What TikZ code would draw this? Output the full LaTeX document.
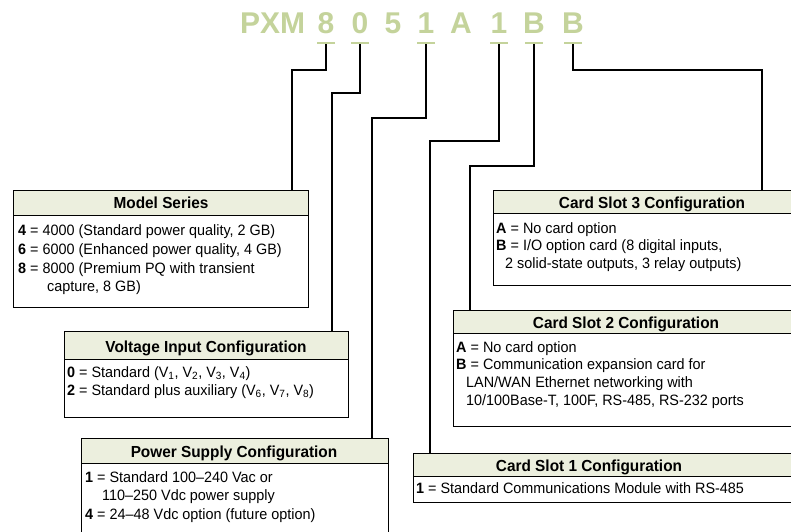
\documentclass[tikz,border=0pt]{standalone}
\usepackage{fontspec}
\setmainfont{Liberation Sans}
\newfontfamily\bodyfont[FakeStretch=0.96,Ligatures=TeX]{Liberation Sans}
\newfontfamily\headfont[FakeStretch=0.96]{Liberation Sans}
\newfontfamily\titlefont{Liberation Sans}
\definecolor{titlegreen}{HTML}{C4D39B}
\definecolor{hdrfill}{HTML}{ECEFDE}
\tikzset{
  ttl/.style={font=\titlefont\fontsize{30}{30}\selectfont\bfseries, text=titlegreen, inner sep=0pt, anchor=base},
  uline/.style={draw=titlegreen, line width=2pt},
  conn/.style={draw=black, line width=1.3pt},
  frame/.style={draw=black, line width=1pt, fill=white, rectangle, inner sep=0pt, anchor=north west},
  hdrbox/.style={draw=black, line width=1pt, fill=hdrfill, rectangle, inner sep=0pt, anchor=north west},
  hdrtext/.style={font=\headfont\fontsize{16}{16}\selectfont\bfseries, inner sep=0pt, anchor=base},
  txt/.style={font=\bodyfont\fontsize{15}{15}\selectfont, inner sep=0pt, anchor=base west}
}
\begin{document}
\begin{tikzpicture}[x=1pt,y=-1pt]
\clip (0,0) rectangle (791,531);
\fill[white] (0,0) rectangle (791,531);
% title
\node[ttl, anchor=base west] (pxm) at (240,33) {PXM};
\node[ttl] (d8) at (326,33) {8};
\node[ttl] (d0) at (360,33) {0};
\node[ttl] (d5) at (393,33) {5};
\node[ttl] (d1a) at (426,33) {1};
\node[ttl] (dA) at (461,33) {A};
\node[ttl] (d1b) at (499,33) {1};
\node[ttl] (dBa) at (534,33) {B};
\node[ttl] (dBb) at (573,33) {B};
\foreach \n in {d8,d0,d1a,d1b,dBa,dBb}{
  \draw[uline] ([xshift=-9pt,yshift=-10pt]\n.base) -- ([xshift=9pt,yshift=-10pt]\n.base);
  \coordinate (u\n) at ([yshift=-11pt]\n.base);
}
% boxes
\node[frame, minimum width=295pt, minimum height=117pt] (ms) at (13,190) {};
\node[hdrbox, minimum width=295pt, minimum height=25pt] (msh) at (13,190) {};
\node[frame, minimum width=284pt, minimum height=86pt] (vi) at (64,331) {};
\node[hdrbox, minimum width=284pt, minimum height=28pt] (vih) at (64,331) {};
\node[frame, minimum width=307pt, minimum height=107pt] (ps) at (81,438) {};
\node[hdrbox, minimum width=307pt, minimum height=25pt] (psh) at (81,438) {};
\node[frame, minimum width=317pt, minimum height=95pt] (cs3) at (493,190) {};
\node[hdrbox, minimum width=317pt, minimum height=23pt] (cs3h) at (493,190) {};
\node[frame, minimum width=347pt, minimum height=116pt] (cs2) at (453,310) {};
\node[hdrbox, minimum width=347pt, minimum height=23pt] (cs2h) at (453,310) {};
\node[frame, minimum width=387pt, minimum height=49pt] (cs1) at (413,453) {};
\node[hdrbox, minimum width=387pt, minimum height=23pt] (cs1h) at (413,453) {};
% headers
\node[hdrtext] (t1) at (161,208) {Model Series};
\node[hdrtext] (t2) at (206,352) {Voltage Input Configuration};
\node[hdrtext] (t3) at (234,457) {Power Supply Configuration};
\node[hdrtext] (t4) at (652,208) {Card Slot 3 Configuration};
\node[hdrtext] (t5) at (626,328) {Card Slot 2 Configuration};
\node[hdrtext] (t6) at (589,471) {Card Slot 1 Configuration};
% body texts
\node[txt] (m1) at (18,235) {\textbf{4} = 4000 (Standard power quality, 2 GB)};
\node[txt] (m2) at (18,254) {\textbf{6} = 6000 (Enhanced power quality, 4 GB)};
\node[txt] (m3) at (18,273) {\textbf{8} = 8000 (Premium PQ with transient};
\node[txt] (m4) at (47,291.5) {capture, 8 GB)};
\node[txt] (v1) at (67,377) {\textbf{0} = Standard (V\textsubscript{1}, V\textsubscript{2}, V\textsubscript{3}, V\textsubscript{4})};
\node[txt] (v2) at (67,395) {\textbf{2} = Standard plus auxiliary (V\textsubscript{6}, V\textsubscript{7}, V\textsubscript{8})};
\node[txt] (p1) at (85,482) {\textbf{1} = Standard 100–240 Vac or};
\node[txt] (p2) at (102,500.5) {110–250 Vdc power supply};
\node[txt] (p3) at (85,519) {\textbf{4} = 24–48 Vdc option (future option)};
\node[txt] (c31) at (496,233) {\textbf{A} = No card option};
\node[txt] (c32) at (496,250.5) {\textbf{B} = I/O option card (8 digital inputs,};
\node[txt] (c33) at (505,268) {2 solid-state outputs, 3 relay outputs)};
\node[txt] (c21) at (456,352) {\textbf{A} = No card option};
\node[txt] (c22) at (456,369.5) {\textbf{B} = Communication expansion card for};
\node[txt] (c23) at (466,387.5) {LAN/WAN Ethernet networking with};
\node[txt] (c24) at (466,405.5) {10/100Base-T, 100F, RS-485, RS-232 ports};
\node[txt] (c11) at (416,493) {\textbf{1} = Standard Communications Module with RS-485};
% connectors
\coordinate (k8) at (292,70);
\coordinate (k0) at (332,93);
\coordinate (k1a) at (372,118);
\coordinate (k1b) at (430,141);
\coordinate (kBa) at (470,166);
\coordinate (kBb) at (762,70);
\draw[conn] (ud8) |- (k8) -- (k8 |- ms.north);
\draw[conn] (ud0) |- (k0) -- (k0 |- vi.north);
\draw[conn] (ud1a) |- (k1a) -- (k1a |- ps.north);
\draw[conn] (ud1b) |- (k1b) -- (k1b |- cs1.north);
\draw[conn] (udBa) |- (kBa) -- (kBa |- cs2.north);
\draw[conn] (udBb) |- (kBb) -- (kBb |- cs3.north);
\end{tikzpicture}
\end{document}
